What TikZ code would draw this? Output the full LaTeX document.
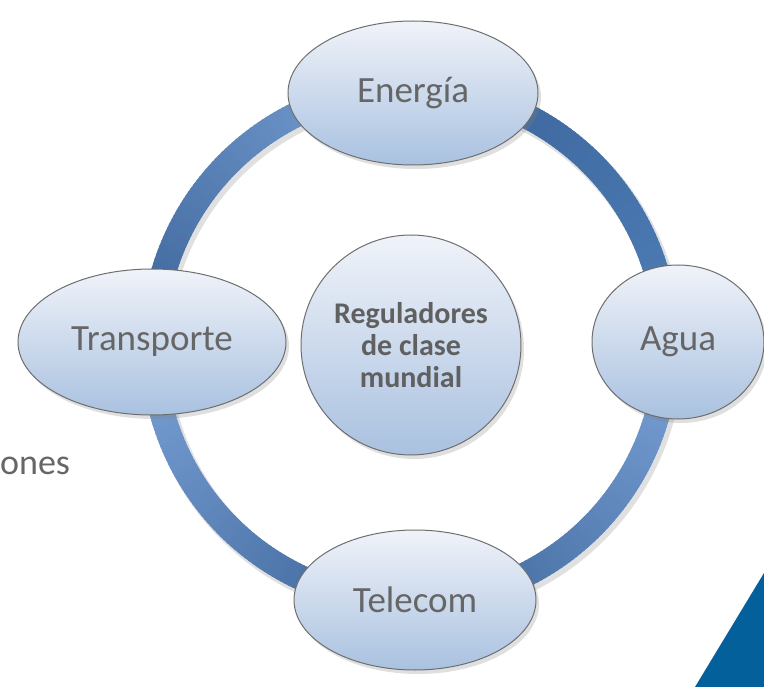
\documentclass[tikz,border=0pt]{standalone}
\usepackage{fontspec}
\setmainfont{Carlito}
\usetikzlibrary{shapes.geometric,shadows}
\definecolor{txtgray}{HTML}{666666}
\definecolor{ctrgray}{HTML}{606060}
\definecolor{ringlight}{HTML}{7CA3D6}
\definecolor{ringmid}{HTML}{4E7DB6}
\definecolor{ringdark}{HTML}{3A6399}
\definecolor{bubtop}{HTML}{F0F3F9}
\definecolor{bubbot}{HTML}{A9C1E0}
\definecolor{bubline}{HTML}{6E6E6E}
\definecolor{tri}{HTML}{03609A}
\tikzset{
  bubble/.style={ellipse, draw=bubline, line width=1pt, top color=bubtop, bottom color=bubbot,
    inner sep=0pt, text=txtgray, font=\fontsize{37}{40}\selectfont,
    drop shadow={opacity=0.25, shadow xshift=3pt, shadow yshift=-4pt}},
  hub/.style={circle, draw=bubline, line width=1pt, top color=bubtop, bottom color=bubbot,
    inner sep=0pt, minimum size=220pt, text=ctrgray, align=center,
    font=\fontsize{30}{32}\selectfont\bfseries,
    drop shadow={opacity=0.25, shadow xshift=3pt, shadow yshift=-4pt}},
  ringseg/.style={line width=25pt, line cap=butt},
}
\begin{document}
\begin{tikzpicture}[x=1pt,y=-1pt]
\useasboundingbox (0,0) rectangle (764,687);
% ring shadow
\draw[line width=27pt, black, opacity=0.12] (413,349) circle[radius=257];
% ring, four arcs with gradients
\foreach \s/\ca/\cb in {0/ringmid/ringdark, 90/ringlight/ringdark, 180/ringlight/ringdark, 270/ringdark/ringlight}{
  \foreach \k in {0,1,...,89}{
    \pgfmathsetmacro\t{\s+\k}
    \pgfmathsetmacro\u{\s+\k+1.6}
    \pgfmathsetmacro\p{100-\k*100/89}
    \pgfmathsetmacro\xa{410+257*cos(\t)}
    \pgfmathsetmacro\ya{345-257*sin(\t)}
    \pgfmathsetmacro\xb{410+257*cos(\u)}
    \pgfmathsetmacro\yb{345-257*sin(\u)}
    \draw[ringseg, color=\ca!\p!\cb] (\xa,\ya) -- (\xb,\yb);
  }
}
% outer text fragment
\node[anchor=base west, inner sep=0pt, text=txtgray, font=\fontsize{36}{40}\selectfont] (frag) at (0,475) {ones};
% nodes
\node[bubble, minimum width=250pt, minimum height=144pt] (energia) at (413,93) {Energía};
\node[bubble, minimum width=242pt, minimum height=140pt] (telecom) at (415,600) {Telecom};
\node[bubble, minimum width=268pt, minimum height=146pt] (transporte) at (152,342) {Transporte};
\node[bubble, minimum width=172pt, minimum height=154pt] (agua) at (678,342) {Agua};
\node[hub] (hub) at (411,345) {Reguladores\\de clase\\mundial};
% corner triangle
\fill[tri] (695,687) -- (764,573) -- (764,687) -- cycle;
\end{tikzpicture}
\end{document}
